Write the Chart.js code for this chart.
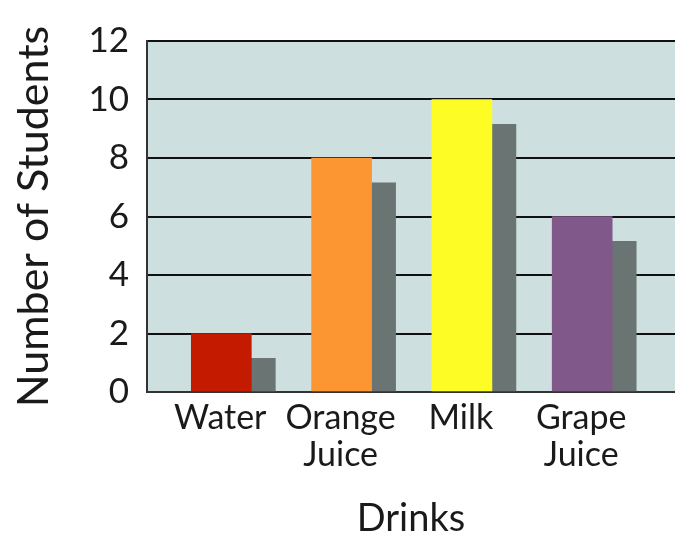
<!DOCTYPE html>
<html>
<head>
<meta charset="utf-8">
<script src="https://cdn.jsdelivr.net/npm/chart.js@4"></script>
<style>
    html, body { margin: 0; padding: 0; background: #ffffff; }
    #wrap { width: 675px; height: 544px; }
</style>
</head>
<body>
<div id="wrap"><canvas id="drinkChart" width="675" height="544"></canvas></div>
<script>
// values
const drinks = [['Water'], ['Orange', 'Juice'], ['Milk'], ['Grape', 'Juice']];
const students = [2, 8, 10, 6];
const shadowValues = [1.15, 7.15, 9.15, 5.15];
const barColors = ['#c41a00', '#fb9632', '#fdfc25', '#80598a'];
const yTicks = [0, 2, 4, 6, 8, 10, 12];

const FONT = 'Lato, "DejaVu Sans", sans-serif';

const plotBackground = {
    id: 'plotBackground',
    beforeDraw(chart) {
        const { ctx, chartArea } = chart;
        ctx.save();
        ctx.fillStyle = '#cddfdf';
        ctx.fillRect(chartArea.left, chartArea.top, chartArea.right - chartArea.left, chartArea.bottom - chartArea.top);
        ctx.restore();
    }
};

function drinkLabel(v) {
    const i = Math.round(v);
    if (Math.abs(v - i) > 1e-6 || !drinks[i]) return '';
    return drinks[i];
}

new Chart(document.getElementById('drinkChart'), {
    type: 'bar',
    data: {
        datasets: [{
            label: 'Students',
            data: students.map((v, i) => ({ x: i, y: v })),
            backgroundColor: barColors,
            barThickness: 60
        }, {
            label: 'Shadow',
            data: shadowValues.map((v, i) => ({ x: i, y: v })),
            backgroundColor: '#6a7472',
            barThickness: 24
        }]
    },
    plugins: [plotBackground],
    options: {
        responsive: false,
        animation: false,
        layout: { padding: { top: 41, right: 0, left: 0, bottom: 0 } },
        plugins: {
            legend: { display: false },
            tooltip: { enabled: false }
        },
        scales: {
            x: {
                type: 'linear',
                offset: false,
                bounds: 'data',
                min: -0.867,
                max: 3.522,
                afterFit: s => { s.height = 152; },
                afterBuildTicks: s => { s.ticks = drinks.map((d, i) => ({ value: i })); },
                grid: { display: false, drawTicks: false },
                border: { display: true, color: '#333333', width: 2 },
                ticks: {
                    autoSkip: false,
                    maxRotation: 0,
                    labelOffset: -31,
                    padding: 7,
                    color: '#1a1a1a',
                    font: { family: FONT, size: 34, lineHeight: 1.1 },
                    callback: drinkLabel
                },
                title: {
                    display: true,
                    text: 'Drinks',
                    color: '#1a1a1a',
                    font: { family: FONT, size: 38 },
                    padding: { top: 0, bottom: 2 }
                }
            },
            y: {
                min: 0,
                max: 12,
                afterFit: s => { s.width = 147; },
                afterBuildTicks: s => { s.ticks = yTicks.map(v => ({ value: v })); },
                grid: { color: '#111111', lineWidth: 2, drawTicks: false },
                border: { display: true, color: '#333333', width: 2 },
                ticks: {
                    padding: 18,
                    color: '#1a1a1a',
                    font: { family: FONT, size: 35 }
                },
                title: {
                    display: true,
                    text: 'Number of Students',
                    color: '#1a1a1a',
                    font: { family: FONT, size: 43 },
                    padding: { top: 8, bottom: 0 }
                }
            }
        }
    }
});
</script>
</body>
</html>
